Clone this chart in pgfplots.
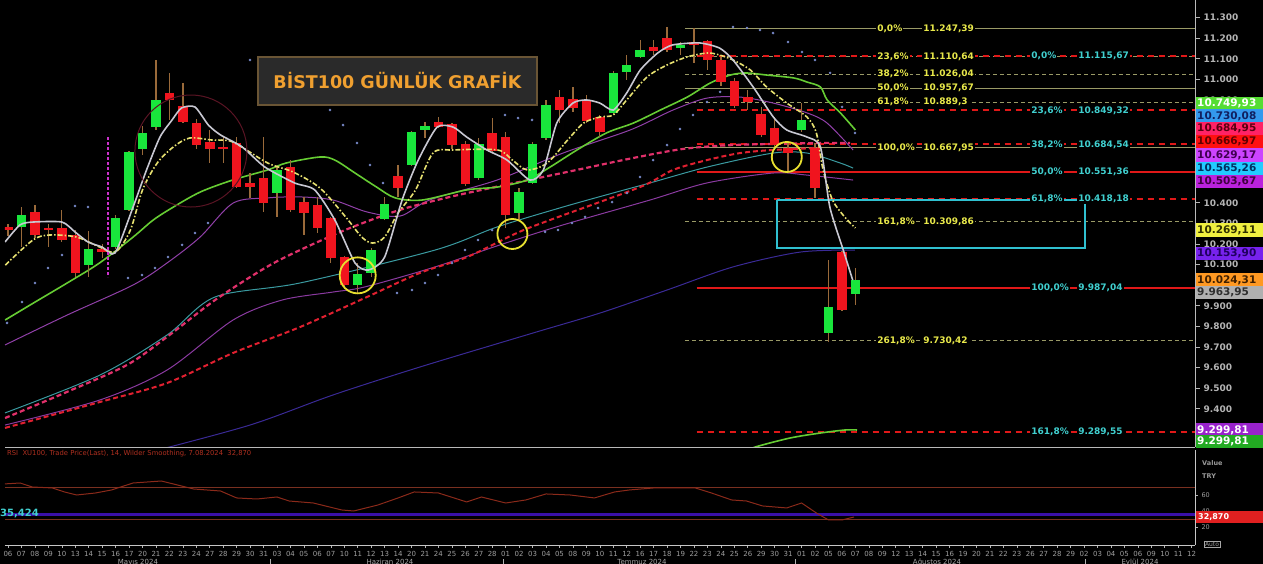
\documentclass[border=0pt]{standalone}
\usepackage{pgfplots}
\pgfplotsset{compat=1.18}
\usepackage{pgfplotstable}
\usepackage{fontspec}
\setmainfont{DejaVu Sans}

\definecolor{cgreen}{HTML}{19E63C}
\definecolor{cred}{HTML}{F0141E}
\definecolor{wick}{HTML}{9A6A3A}
\definecolor{magrey}{HTML}{C8C8D2}
\definecolor{mayel}{HTML}{E6E070}
\definecolor{magrn}{HTML}{66CC33}
\definecolor{mapink}{HTML}{E0306A}
\definecolor{mared}{HTML}{E02030}
\definecolor{mateal}{HTML}{3A9AA0}
\definecolor{mapurp}{HTML}{9040A8}
\definecolor{mapurpb}{HTML}{8A3AA0}
\definecolor{manavy}{HTML}{3A2A96}
\definecolor{sar}{HTML}{7888C8}
\definecolor{fibol}{HTML}{9A9A66}
\definecolor{fibred}{HTML}{E01818}
\definecolor{fibyel}{HTML}{E8E84A}
\definecolor{fibcyan}{HTML}{40CFCF}
\definecolor{tickgrey}{HTML}{B4B4B4}
\definecolor{boxcyan}{HTML}{30C0D0}
\definecolor{circyel}{HTML}{E8E030}
\definecolor{titlebg}{HTML}{2A2A2A}
\definecolor{titlebd}{HTML}{6A5535}
\definecolor{titletx}{HTML}{F0A030}
\definecolor{rsiline}{HTML}{8B2A1A}
\definecolor{rsilvl}{HTML}{7A3020}
\definecolor{rsipurp}{HTML}{3A10A8}
\definecolor{rsititle}{HTML}{B03020}
\definecolor{rsibox}{HTML}{E02020}
\definecolor{vmark}{HTML}{CC33CC}
\definecolor{darkcirc}{HTML}{5A1424}
\definecolor{pbA}{HTML}{55DD33}\definecolor{ptA}{HTML}{FFFFFF}
\definecolor{pbB}{HTML}{3399EE}\definecolor{ptB}{HTML}{102060}
\definecolor{pbC}{HTML}{FF2266}\definecolor{ptC}{HTML}{5A0010}
\definecolor{pbD}{HTML}{FF1010}\definecolor{ptD}{HTML}{600000}
\definecolor{pbE}{HTML}{CC44FF}\definecolor{ptE}{HTML}{400050}
\definecolor{pbF}{HTML}{22CCFF}\definecolor{ptF}{HTML}{003060}
\definecolor{pbG}{HTML}{BB22DD}\definecolor{ptG}{HTML}{400040}
\definecolor{pbH}{HTML}{F0F040}\definecolor{ptH}{HTML}{303000}
\definecolor{pbI}{HTML}{7722EE}\definecolor{ptI}{HTML}{200060}
\definecolor{pbJ}{HTML}{FF9922}\definecolor{ptJ}{HTML}{402000}
\definecolor{pbK}{HTML}{B0B0B0}\definecolor{ptK}{HTML}{303030}
\definecolor{pbL}{HTML}{9922CC}\definecolor{ptL}{HTML}{FFFFFF}
\definecolor{pbM}{HTML}{22AA22}\definecolor{ptM}{HTML}{FFFFFF}

\pgfplotstableread{
i o h l c
1 10283 10380 10186 10341
6 10098 10263 10039 10176
8 10186 10340 10175 10327
9 10366 10650 10360 10647
10 10661 10773 10633 10739
11 10768 11094 10754 10900
20 10448 10575 10330 10560
26 10001 10108 9962 10054
27 10059 10180 10040 10171
28 10322 10430 10316 10395
30 10584 10750 10580 10744
31 10754 10792 10715 10773
35 10520 10715 10510 10685
38 10350 10472 10316 10453
39 10496 10695 10491 10685
40 10715 10900 10705 10875
45 10836 11040 10830 11031
46 11036 11118 10997 11070
47 11109 11191 11104 11143
50 11152 11180 11120 11167
59 10754 10885 10744 10802
61 9768 10122 9724 9894
63 9960 10083 9904 10025
}\upcandles

\pgfplotstableread{
i o h l c
0 10284 10298 10240 10268
2 10356 10390 10229 10244
3 10278 10300 10186 10268
4 10278 10365 10210 10220
5 10244 10268 10039 10058
7 10176 10200 10130 10160
12 10934 11031 10802 10900
13 10870 10980 10788 10793
14 10788 10810 10660 10681
15 10695 10754 10594 10661
16 10672 10720 10594 10665
17 10690 10720 10470 10477
18 10495 10545 10423 10477
19 10520 10720 10355 10400
21 10575 10610 10355 10366
22 10405 10430 10244 10350
23 10390 10430 10254 10278
24 10327 10332 10108 10132
25 10137 10140 9980 10001
29 10530 10584 10428 10472
32 10792 10815 10763 10768
33 10782 10790 10660 10681
34 10685 10700 10480 10491
36 10739 10812 10642 10652
37 10720 10744 10278 10341
41 10914 10948 10788 10851
42 10904 10962 10841 10861
43 10900 10924 10788 10797
44 10817 10827 10720 10744
48 11157 11190 11120 11138
49 11201 11254 11133 11143
51 11182 11250 11080 11167
52 11186 11191 11045 11094
53 11094 11110 10970 10987
54 10992 11007 10860 10870
55 10914 10948 10851 10890
56 10831 10865 10720 10729
57 10763 10817 10671 10681
58 10666 10695 10545 10642
60 10666 10690 10423 10472
62 10161 10165 9875 9880
}\downcandles

\tikzset{
  fibtxt/.style={font=\bfseries\fontsize{9}{10}\selectfont, fill=black, inner sep=1pt, anchor=west},
}
\pgfplotsset{
  candle/.style={only marks, mark=*, mark size=0pt, mark options={draw opacity=0, fill opacity=0}, forget plot,
    error bars/.cd, y dir=both, y explicit, error mark=none, error bar style={#1}},
}
\newcommand{\fibY}[3]{%
  \node[fibtxt, text=fibyel] at (axis cs:64.54,#1) {#2};
  \node[fibtxt, text=fibyel] at (axis cs:67.96,#1) {#3};}
\newcommand{\fibC}[3]{%
  \node[fibtxt, text=fibcyan] at (axis cs:75.99,#1) {#2};
  \node[fibtxt, text=fibcyan] at (axis cs:79.48,#1) {#3};}
\newcommand{\pbox}[4]{%
  \fill[#2] (1196,564-#1-6.6) rectangle (1263,564-#1+6.6);
  \node[anchor=west, text=#3, inner sep=0pt, font=\bfseries\fontsize{10.5}{12}\selectfont] at (1197,564-#1) {#4};}

\begin{document}
\begin{tikzpicture}
\fill[black] (0pt,0pt) rectangle (1263pt,564pt);

\begin{axis}[
  at={(5pt,117pt)}, anchor=south west, scale only axis,
  width=1190pt, height=447pt,
  xmin=-0.223, xmax=88.25, ymin=9214.4, ymax=11385.5,
  axis x line*=bottom, axis y line*=right,
  axis line style={draw=gray!55, line width=0.8pt},
  xtick=\empty,
  ytick={9400,9500,9600,9700,9800,9900,10000,10100,10200,10300,10400,10500,10600,10700,10800,10900,11000,11100,11200,11300},
  scaled y ticks=false,
  /pgf/number format/assume math mode=true,
  yticklabel style={font=\bfseries\fontsize{9}{10}\selectfont, text=tickgrey, /pgf/number format/1000 sep={.}},
  tick align=outside, major tick length=5pt,
  tick style={draw=tickgrey, line width=0.8pt},
]
% Fibonacci set 1 (olive)
\addplot[fibol, line width=1pt, forget plot] coordinates {(50.33,11247.39) (88.25,11247.39)};
\addplot[fibol, line width=1pt, dash pattern=on 4pt off 3pt, forget plot] coordinates {(50.33,11110.64) (88.25,11110.64)};
\addplot[fibol, line width=1pt, dash pattern=on 4pt off 3pt, forget plot] coordinates {(50.33,11026.04) (88.25,11026.04)};
\addplot[fibol, line width=1pt, forget plot] coordinates {(50.33,10957.67) (88.25,10957.67)};
\addplot[fibol, line width=1pt, dash pattern=on 4pt off 3pt, forget plot] coordinates {(50.33,10889.3) (88.25,10889.3)};
\addplot[fibol, line width=1pt, forget plot] coordinates {(50.33,10667.95) (88.25,10667.95)};
\addplot[fibol, line width=1pt, dash pattern=on 4pt off 3pt, forget plot] coordinates {(50.33,10309.86) (88.25,10309.86)};
\addplot[fibol, line width=1pt, dash pattern=on 4pt off 3pt, forget plot] coordinates {(50.33,9730.42) (88.25,9730.42)};
% Fibonacci set 2 (red)
\addplot[fibred, line width=2pt, dash pattern=on 6pt off 5pt, forget plot] coordinates {(51.2,11115.67) (88.25,11115.67)};
\addplot[fibred, line width=2pt, dash pattern=on 6pt off 5pt, forget plot] coordinates {(51.2,10849.32) (88.25,10849.32)};
\addplot[fibred, line width=2pt, dash pattern=on 6pt off 5pt, forget plot] coordinates {(51.2,10684.54) (88.25,10684.54)};
\addplot[fibred, line width=2pt, forget plot] coordinates {(51.2,10551.36) (88.25,10551.36)};
\addplot[fibred, line width=2pt, dash pattern=on 6pt off 5pt, forget plot] coordinates {(51.2,10418.18) (88.25,10418.18)};
\addplot[fibred, line width=2pt, forget plot] coordinates {(51.2,9987.04) (88.25,9987.04)};
\addplot[fibred, line width=2pt, dash pattern=on 6pt off 5pt, forget plot] coordinates {(51.2,9289.55) (88.25,9289.55)};
% target box
\addplot[boxcyan, line width=2pt, forget plot] coordinates {(57.2,10415) (80.1,10415) (80.1,10181) (57.2,10181) (57.2,10415)};

% moving averages (thin / dashed)
\addplot[manavy, line width=1pt, smooth, forget plot] coordinates {(10.56,9190) (17.99,9321) (24.16,9467) (30.63,9603) (39.03,9768) (44.01,9865) (49.0,9977) (53.9,10089) (58.88,10161) (62.97,10171)};
\addplot[magrn, line width=1.6pt, smooth, forget plot] coordinates {(54.8,9190) (55.54,9214) (58.14,9258) (60.37,9282) (62.23,9297) (63.12,9297)};
\addplot[mapurpb, line width=1pt, smooth, forget plot] coordinates {(-0.22,9321) (6.84,9443) (11.82,9588) (16.73,9831) (20.37,9928) (24.16,9967) (26.54,9992) (31.75,10089) (36.58,10196) (41.26,10293) (47.73,10414) (51.97,10497) (56.88,10545) (59.41,10535) (62.83,10511)};
\addplot[mapurp, line width=1pt, smooth, forget plot] coordinates {(-0.22,9710) (4.39,9855) (9.29,10001) (11.82,10108) (14.28,10234) (16.73,10399) (19.26,10424) (21.71,10429) (24.16,10414) (26.69,10356) (29.14,10336) (31.38,10415) (36.36,10511) (41.26,10642) (46.25,10754) (49.44,10851) (51.97,10909) (54.42,10914) (56.88,10885) (59.41,10837) (60.89,10788) (62.83,10657)};
\addplot[mateal, line width=1pt, smooth, forget plot] coordinates {(-0.22,9380) (6.84,9564) (11.82,9758) (15.39,9943) (21.71,10011) (31.75,10171) (36.36,10283) (41.26,10380) (44.98,10448) (47.73,10497) (51.97,10574) (56.88,10642) (59.41,10642) (61.86,10594) (62.83,10569)};
\addplot[mared, line width=2pt, dash pattern=on 5pt off 3pt, smooth, forget plot] coordinates {(-0.22,9307) (6.84,9433) (11.82,9525) (16.73,9671) (21.71,9797) (26.69,9943) (30.63,10060) (34.13,10137) (37.84,10254) (40.3,10317) (46.99,10477) (49.44,10560) (51.97,10608) (54.42,10642) (56.88,10657) (60.37,10667)};
\addplot[mapink, line width=2.2pt, dash pattern=on 5pt off 3pt, smooth, forget plot] coordinates {(-0.22,9355) (4.39,9482) (8.85,9613) (11.82,9749) (15.39,9928) (19.11,10084) (21.71,10171) (25.43,10278) (29.14,10366) (32.86,10429) (36.58,10482) (41.56,10550) (46.47,10618) (50.19,10662) (53.9,10681) (60.37,10691) (62.6,10691)};
\addplot[magrn, line width=1.6pt, smooth, forget plot] coordinates {(-0.22,9831) (1.9,9914) (4.4,10011) (6.8,10108) (9.3,10234) (10.8,10317) (12.3,10380) (14.3,10453) (16.7,10511) (19.3,10560) (20.7,10594) (23.2,10623) (24.3,10608) (25.8,10545) (27.4,10477) (28.8,10424) (30.8,10414) (34.1,10463) (36.4,10477) (38.6,10511) (40.3,10574) (42.3,10657) (44.5,10740) (46.5,10788) (48.5,10851) (50.5,10914) (52.2,10982) (53.7,11021) (54.9,11031) (56.4,11021) (58.4,11007) (59.4,10987) (60.4,10963) (60.9,10900) (61.9,10836) (63.0,10754)};

% candles: wicks then bodies
\addplot[candle={wick, line width=1.3pt}]
  table[x=i, y expr=(\thisrow{h}+\thisrow{l})/2, y error expr=(\thisrow{h}-\thisrow{l})/2] {\upcandles};
\addplot[candle={wick, line width=1.3pt}]
  table[x=i, y expr=(\thisrow{h}+\thisrow{l})/2, y error expr=(\thisrow{h}-\thisrow{l})/2] {\downcandles};
\addplot[candle={cgreen, line width=9.5pt}]
  table[x=i, y expr=(\thisrow{o}+\thisrow{c})/2, y error expr={max(abs(\thisrow{c}-\thisrow{o})/2,4)}] {\upcandles};
\addplot[candle={cred, line width=9.5pt}]
  table[x=i, y expr=(\thisrow{o}+\thisrow{c})/2, y error expr={max(abs(\thisrow{c}-\thisrow{o})/2,4)}] {\downcandles};

% short averages on top
\addplot[mayel, line width=1.6pt, dash pattern=on 5pt off 2pt on 1.5pt off 2pt, smooth, forget plot] coordinates {(-0.2,10098) (1.86,10220) (3.1,10244) (5.1,10234) (6.8,10186) (8.0,10162) (9.1,10268) (10.0,10463) (11.1,10594) (12.3,10672) (13.5,10715) (15.2,10705) (16.7,10696) (19.3,10594) (21.2,10550) (23.2,10472) (25.1,10332) (26.3,10234) (27.1,10205) (28.0,10234) (29.0,10351) (30.3,10463) (31.6,10642) (33.1,10657) (36.4,10657) (37.5,10608) (38.6,10560) (40.1,10594) (41.6,10705) (42.8,10788) (44.0,10817) (45.0,10827) (46.0,10900) (47.5,11011) (49.0,11070) (50.5,11109) (52.0,11128) (52.9,11118) (53.9,11094) (55.2,11045) (56.4,10963) (57.9,10885) (59.4,10817) (60.1,10739) (60.6,10560) (61.3,10414) (62.2,10332) (63.0,10278)};
\addplot[magrey, line width=1.6pt, smooth, tension=0.4, forget plot] coordinates {(-0.22,10210) (0.89,10293) (1.86,10307) (4.01,10307) (4.98,10259) (5.95,10210) (6.99,10186) (7.96,10157) (9.3,10380) (10.3,10560) (11.3,10720) (12.2,10803) (12.9,10861) (13.9,10866) (14.9,10778) (15.8,10730) (17.4,10672) (19.1,10574) (21.3,10497) (22.8,10463) (24.3,10317) (25.8,10108) (26.8,10074) (28.0,10137) (29.3,10414) (30.5,10608) (31.9,10768) (33.1,10768) (34.1,10720) (35.6,10657) (37.1,10608) (38.8,10511) (39.8,10560) (40.8,10788) (42.0,10885) (43.0,10900) (44.0,10885) (45.0,10851) (46.0,10934) (47.0,11045) (48.3,11128) (49.4,11167) (51.4,11177) (52.9,11152) (53.9,11094) (55.4,10963) (56.9,10817) (57.9,10754) (59.4,10720) (60.4,10672) (61.1,10380) (62.1,10171) (62.8,10025)};

% parabolic SAR dots
\addplot[only marks, mark=*, mark size=1.1pt, sar, forget plot] coordinates {
(-0.07,9817) (1.04,9919) (2.01,10011) (2.97,10084) (4.01,10147) (4.98,10385) (5.95,10380)
(8.92,10035) (9.96,10050) (10.93,10084) (11.9,10137) (12.94,10196) (13.9,10254) (14.87,10302)
(17.99,11094) (23.94,10851) (24.91,10778) (25.95,10691) (26.91,10584) (27.88,10497)
(28.92,9962) (30.04,9977) (31.0,10011) (31.97,10050) (33.01,10108) (33.98,10171) (34.94,10220) (35.99,10268)
(36.95,10827) (37.92,10812) (38.96,10803)
(39.93,10259) (40.89,10268) (41.93,10302) (42.9,10332) (43.87,10375) (44.91,10404) (46.02,10448) (46.99,10526) (47.96,10608) (49.0,10681) (49.96,10759) (50.93,10827) (51.97,10890) (52.94,10939)
(53.9,11254) (54.94,11249) (55.91,11240) (56.88,11225) (57.99,11181) (59.03,11133) (60.0,11094) (61.12,11031) (62.01,10866) (62.97,10740)};

% vertical marker
\addplot[vmark, line width=2pt, dash pattern=on 3pt off 2pt, forget plot] coordinates {(7.4,10720) (7.4,10040)};

% circles
\draw[circyel, line width=1.8pt] (axis cs:26.0,10048) circle[radius=18pt];
\draw[circyel, line width=1.8pt] (axis cs:37.5,10249) circle[radius=15pt];
\draw[circyel, line width=1.8pt] (axis cs:57.9,10623) circle[radius=15pt];
\draw[darkcirc, line width=1pt] (axis cs:13.6,10652) circle[radius=56pt];

% fib labels
\fibY{11247.39}{0,0\%}{11.247,39}
\fibY{11110.64}{23,6\%}{11.110,64}
\fibY{11026.04}{38,2\%}{11.026,04}
\fibY{10957.67}{50,0\%}{10.957,67}
\fibY{10889.3}{61,8\%}{10.889,3}
\fibY{10667.95}{100,0\%}{10.667,95}
\fibY{10309.86}{161,8\%}{10.309,86}
\fibY{9730.42}{261,8\%}{9.730,42}
\fibC{11115.67}{0,0\%}{11.115,67}
\fibC{10849.32}{23,6\%}{10.849,32}
\fibC{10684.54}{38,2\%}{10.684,54}
\fibC{10551.36}{50,0\%}{10.551,36}
\fibC{10418.18}{61,8\%}{10.418,18}
\fibC{9987.04}{100,0\%}{9.987,04}
\fibC{9289.55}{161,8\%}{9.289,55}
\end{axis}

% RSI panel
\begin{axis}[
  at={(5pt,19pt)}, anchor=south west, scale only axis,
  width=1190pt, height=95pt,
  xmin=-0.223, xmax=88.25, ymin=-2.5, ymax=116.25,
  axis x line*=bottom, axis y line*=right,
  axis line style={draw=gray!45, line width=0.7pt},
  xtick={0,...,88},
  xticklabels={06,07,08,09,10,13,14,15,16,17,20,21,22,23,24,27,28,29,30,31,03,04,05,06,07,10,11,12,13,14,20,21,24,25,26,27,28,01,02,03,04,05,08,09,10,11,12,16,17,18,19,22,23,24,25,26,29,30,31,01,02,05,06,07,08,09,12,13,14,15,16,19,20,21,22,23,26,27,28,29,02,03,04,05,06,09,10,11,12},
  xticklabel style={font=\fontsize{7}{8}\selectfont, text=gray!75},
  ytick={20,40,60},
  yticklabel style={font=\fontsize{6.5}{7}\selectfont, text=gray!75},
  /pgf/number format/assume math mode=true,
  tick align=outside, major tick length=3pt,
  tick style={draw=gray!60, line width=0.6pt},
]
\addplot[rsilvl, line width=0.9pt, forget plot] coordinates {(-0.223,70) (88.25,70)};
\addplot[rsilvl, line width=0.9pt, forget plot] coordinates {(-0.223,30) (88.25,30)};
\addplot[rsipurp, line width=3pt, forget plot] coordinates {(-0.223,35.424) (88.25,35.424)};
\addplot[rsiline, line width=1pt, forget plot] coordinates {
(-0.3,73.8) (0.9,75) (1.8,70) (3.3,68.8) (4.2,63.8) (5.1,60) (6.5,62.5) (7.7,66.3) (9.3,75) (11.4,77.5) (12.6,72.5) (13.8,67.5) (15.8,65) (17.0,56.3) (18.5,55) (20.0,57.5) (20.9,52.5) (22.7,50) (24.8,41.3) (25.7,40) (27.5,47.5) (29.0,56.3) (30.2,63.8) (32.0,62.5) (34.1,51.3) (35.2,57.5) (37.0,50) (38.5,53.8) (40.0,61.3) (41.8,60) (43.6,56.3) (45.1,63.8) (46.2,66.3) (48.0,68.8) (51.1,68.8) (52.3,62.5) (53.8,53.8) (54.9,52.5) (56.1,46.3) (57.9,43.8) (59.0,50) (60.1,37.5) (61.0,28.8) (62.0,28.8) (62.9,32.5)};
\end{axis}

\begin{scope}[x=1pt,y=1pt]
% title box
\node[fill=titlebg, draw=titlebd, line width=1.5pt, minimum width=279pt, minimum height=48pt, inner sep=0pt,
  text=titletx, font=\bfseries\fontsize{17.5}{20}\selectfont] at (397.5,483) {BİST100 GÜNLÜK GRAFİK};

% price boxes on the right
\pbox{103.3}{pbA}{ptA}{10.749,93}
\pbox{116}{pbB}{ptB}{10.730,08}
\pbox{128.7}{pbC}{ptC}{10.684,95}
\pbox{141.7}{pbD}{ptD}{10.666,97}
\pbox{155}{pbE}{ptE}{10.629,17}
\pbox{168.3}{pbF}{ptF}{10.565,26}
\pbox{181.7}{pbG}{ptG}{10.503,67}
\pbox{230}{pbH}{ptH}{10.269,11}
\pbox{253.3}{pbI}{ptI}{10.153,90}
\pbox{280}{pbJ}{ptJ}{10.024,31}
\pbox{292.7}{pbK}{ptK}{9.963,95}
\pbox{430}{pbL}{ptL}{9.299,81}
\pbox{441.7}{pbM}{ptM}{9.299,81}

% RSI annotations
\node[anchor=west, inner sep=0pt, text=rsititle, font=\fontsize{6.8}{8}\selectfont] at (7,110) {RSI \ XU100, Trade Price(Last), 14, Wilder Smoothing, 7.08.2024 \ 32,870};
\node[anchor=west, inner sep=0pt, text=fibcyan, font=\bfseries\fontsize{10}{11}\selectfont] at (0,50) {35,424};
\node[anchor=west, inner sep=0pt, text=gray!80, font=\bfseries\fontsize{6.5}{7}\selectfont] at (1202,101) {Value};
\node[anchor=west, inner sep=0pt, text=gray!80, font=\bfseries\fontsize{6.5}{7}\selectfont] at (1202,88) {TRY};
\fill[rsibox] (1196,41) rectangle (1263,53);
\node[anchor=west, inner sep=0pt, text=white, font=\bfseries\fontsize{8}{9}\selectfont] at (1198,47) {32,870};
\node[draw=gray!70, text=gray!80, inner sep=1pt, font=\fontsize{6}{7}\selectfont] at (1212,20) {Auto};

% month labels
\foreach \mx/\mt in {138/{Mayıs 2024}, 390/{Haziran 2024}, 642/{Temmuz 2024}, 937/{Ağustos 2024}, 1140/{Eylül 2024}}
  \node[anchor=north, inner sep=0pt, text=gray!70, font=\fontsize{7}{8}\selectfont] at (\mx,5) {\mt};
\foreach \sx in {270,503,795,1085}
  \draw[gray!60, line width=0.6pt] (\sx,0) -- (\sx,5);
\end{scope}

\pgfresetboundingbox
\useasboundingbox (0pt,0pt) rectangle (1263pt,564pt);
\end{tikzpicture}
\end{document}
